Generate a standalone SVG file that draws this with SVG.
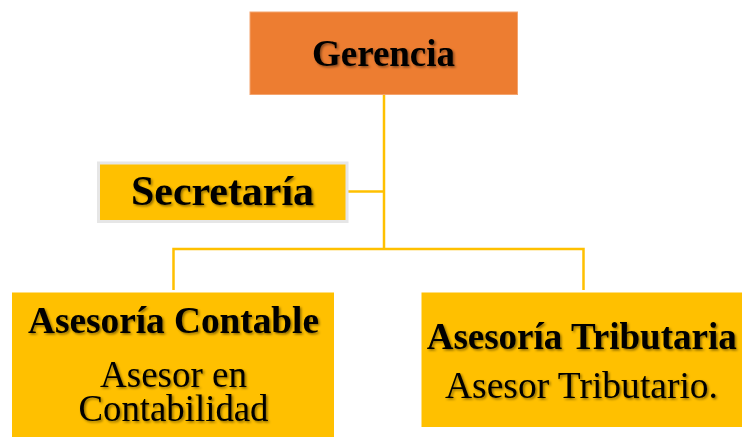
<svg xmlns="http://www.w3.org/2000/svg" width="742" height="437" viewBox="0 0 742 437">
  <defs>
    <filter id="ts" x="-10%" y="-30%" width="120%" height="160%">
      <feDropShadow dx="1.5" dy="1.5" stdDeviation="1" flood-color="#000" flood-opacity="0.45"/>
    </filter>
  </defs>
  <style>
    .t { font-family: "Liberation Serif", "Times New Roman", serif; fill: #000; text-anchor: middle; filter: url(#ts); }
    .b { font-weight: bold; }
    .con { stroke: #FFC000; stroke-width: 2.5; fill: none; }
    .y { fill: #FFC000; }
  </style>
  <rect width="742" height="437" fill="#fff"/>
  <g id="connectors">
    <path class="con" d="M384 95 V249"/>
    <path class="con" d="M348 191.5 H384"/>
    <path class="con" d="M173.5 290 V249 H583.5 V290"/>
  </g>
  <g id="gerencia">
    <rect x="250" y="12" width="267.5" height="82.5" fill="#ED7D31" stroke="#F4A46E" stroke-width="1"/>
    <text class="t b" x="383.5" y="65.5" font-size="37" textLength="143" lengthAdjust="spacingAndGlyphs">Gerencia</text>
  </g>
  <g id="secretaria">
    <rect x="98.5" y="163" width="248.5" height="58.5" fill="#FFC000" stroke="#E6E6E6" stroke-width="3"/>
    <text class="t b" x="222.5" y="205" font-size="42" textLength="183" lengthAdjust="spacingAndGlyphs">Secretaría</text>
  </g>
  <g id="asesoria-contable">
    <rect class="y" x="12" y="292.5" width="322" height="144.5"/>
    <text class="t b" x="173.5" y="333" font-size="37" textLength="291" lengthAdjust="spacingAndGlyphs">Asesoría Contable</text>
    <text class="t" x="173.5" y="386.5" font-size="37" textLength="147" lengthAdjust="spacingAndGlyphs">Asesor en</text>
    <text class="t" x="173.5" y="421" font-size="37" textLength="190" lengthAdjust="spacingAndGlyphs">Contabilidad</text>
  </g>
  <g id="asesoria-tributaria">
    <rect class="y" x="421.5" y="292.5" width="320.5" height="134.5"/>
    <text class="t b" x="581.7" y="348.5" font-size="37" textLength="310" lengthAdjust="spacingAndGlyphs">Asesoría Tributaria</text>
    <text class="t" x="581.5" y="398" font-size="37" textLength="273" lengthAdjust="spacingAndGlyphs">Asesor Tributario.</text>
  </g>
</svg>
